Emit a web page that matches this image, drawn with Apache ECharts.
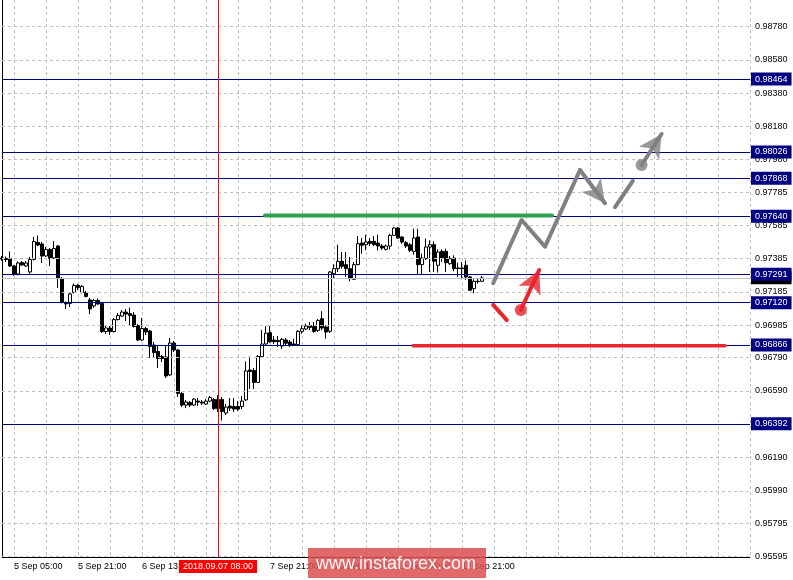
<!DOCTYPE html>
<html><head><meta charset="utf-8">
<script src="https://cdn.jsdelivr.net/npm/echarts@6/dist/echarts.min.js"></script>
<style>html,body{margin:0;padding:0;background:#fff}#c{width:793px;height:580px}</style>
</head><body><div id="c"></div>
<script>
// ---- data: hourly candles [open, close, low, high] ----
const candles = [
[0.97389,0.97383,0.97371,0.97401],[0.97386,0.97380,0.97365,0.97398],[0.97386,0.97341,0.97335,0.97428],
[0.97341,0.97290,0.97281,0.97347],[0.97293,0.97359,0.97284,0.97368],[0.97362,0.97347,0.97341,0.97371],
[0.97341,0.97359,0.97335,0.97371],[0.97305,0.97380,0.97293,0.97395],[0.97380,0.97488,0.97374,0.97515],
[0.97482,0.97467,0.97461,0.97524],[0.97473,0.97401,0.97359,0.97485],[0.97401,0.97440,0.97395,0.97455],
[0.97440,0.97386,0.97341,0.97449],[0.97389,0.97446,0.97383,0.97491],[0.97461,0.97266,0.97209,0.97467],
[0.97266,0.97122,0.97116,0.97275],[0.97122,0.97113,0.97083,0.97128],[0.97116,0.97173,0.97094,0.97179],
[0.97182,0.97224,0.97176,0.97236],[0.97224,0.97212,0.97197,0.97233],[0.97182,0.97218,0.97176,0.97227],
[0.97182,0.97158,0.97152,0.97191],[0.97137,0.97083,0.97052,0.97149],[0.97101,0.97134,0.97089,0.97143],
[0.97134,0.97113,0.97107,0.97146],[0.97116,0.96947,0.96938,0.97122],[0.96947,0.96968,0.96932,0.96980],
[0.96968,0.96947,0.96926,0.96980],[0.96947,0.97019,0.96941,0.97028],[0.97019,0.97043,0.97013,0.97058],
[0.97040,0.97064,0.97034,0.97076],[0.97064,0.97052,0.97010,0.97082],[0.97055,0.97043,0.96986,0.97091],
[0.97046,0.96977,0.96971,0.97064],[0.96983,0.96896,0.96890,0.96992],[0.96896,0.96965,0.96890,0.97028],
[0.96965,0.96944,0.96926,0.96974],[0.96950,0.96857,0.96788,0.96956],[0.96866,0.96821,0.96788,0.96884],
[0.96827,0.96785,0.96728,0.96860],[0.96797,0.96785,0.96764,0.96806],[0.96794,0.96680,0.96668,0.96860],
[0.96686,0.96878,0.96680,0.96908],[0.96878,0.96836,0.96824,0.96890],[0.96836,0.96575,0.96554,0.96842],
[0.96575,0.96505,0.96493,0.96584],[0.96505,0.96523,0.96487,0.96536],[0.96520,0.96505,0.96493,0.96529],
[0.96505,0.96541,0.96499,0.96547],[0.96529,0.96523,0.96499,0.96547],[0.96523,0.96517,0.96505,0.96536],
[0.96511,0.96529,0.96505,0.96541],[0.96529,0.96550,0.96523,0.96559],[0.96538,0.96484,0.96475,0.96547],
[0.96538,0.96484,0.96463,0.96565],[0.96538,0.96466,0.96412,0.96553],[0.96457,0.96493,0.96445,0.96511],
[0.96499,0.96487,0.96469,0.96547],[0.96496,0.96481,0.96463,0.96547],[0.96496,0.96481,0.96469,0.96529],
[0.96496,0.96529,0.96481,0.96559],[0.96536,0.96710,0.96529,0.96767],[0.96716,0.96707,0.96602,0.96797],
[0.96713,0.96641,0.96602,0.96728],[0.96641,0.96797,0.96638,0.96806],[0.96796,0.96872,0.96794,0.96956],
[0.96872,0.96937,0.96866,0.96980],[0.96940,0.96886,0.96878,0.96980],[0.96896,0.96886,0.96872,0.96920],
[0.96893,0.96887,0.96854,0.96920],[0.96860,0.96900,0.96842,0.96908],[0.96896,0.96877,0.96866,0.96908],
[0.96884,0.96864,0.96854,0.96896],[0.96872,0.96866,0.96860,0.96904],[0.96868,0.96948,0.96863,0.96956],
[0.96948,0.96964,0.96934,0.96984],[0.96962,0.96980,0.96956,0.96994],[0.96984,0.96972,0.96956,0.97004],
[0.96978,0.96948,0.96940,0.97004],[0.96954,0.97014,0.96944,0.97022],[0.97024,0.96968,0.96954,0.97069],
[0.96974,0.96944,0.96904,0.96984],[0.96948,0.97305,0.96938,0.97311],[0.97295,0.97325,0.97269,0.97351],
[0.97325,0.97369,0.97305,0.97469],[0.97369,0.97339,0.97325,0.97425],[0.97349,0.97325,0.97275,0.97425],
[0.97325,0.97265,0.97249,0.97395],[0.97261,0.97349,0.97257,0.97365],[0.97349,0.97475,0.97345,0.97521],
[0.97479,0.97465,0.97415,0.97509],[0.97469,0.97485,0.97435,0.97529],[0.97489,0.97477,0.97461,0.97509],
[0.97489,0.97469,0.97461,0.97521],[0.97479,0.97461,0.97435,0.97529],[0.97461,0.97449,0.97437,0.97473],
[0.97441,0.97461,0.97434,0.97470],[0.97461,0.97525,0.97441,0.97535],[0.97525,0.97569,0.97521,0.97575],
[0.97569,0.97509,0.97505,0.97575],[0.97515,0.97485,0.97475,0.97521],[0.97481,0.97461,0.97449,0.97491],
[0.97469,0.97435,0.97425,0.97479],[0.97429,0.97509,0.97409,0.97565],[0.97515,0.97349,0.97289,0.97565],
[0.97349,0.97389,0.97289,0.97415],[0.97385,0.97455,0.97377,0.97505],[0.97455,0.97469,0.97305,0.97495],
[0.97469,0.97369,0.97305,0.97489],[0.97345,0.97425,0.97301,0.97441],[0.97429,0.97389,0.97365,0.97441],
[0.97429,0.97361,0.97305,0.97445],[0.97355,0.97385,0.97347,0.97401],[0.97389,0.97325,0.97309,0.97405],
[0.97329,0.97325,0.97275,0.97361],[0.97329,0.97325,0.97261,0.97365],[0.97345,0.97275,0.97257,0.97375],
[0.97275,0.97195,0.97191,0.97281],[0.97205,0.97249,0.97177,0.97261],[0.97249,0.97247,0.97235,0.97265],
[0.97249,0.97269,0.97245,0.97281]
];
const slotCount = 188;                       // bar slots incl. empty future area
const timeLabels = ['5 Sep 05:00','5 Sep 21:00','6 Sep 13:00','7 Sep 05:00','7 Sep 21:00','10 Sep 13:00','11 Sep 05:00','11 Sep 21:00'];
const labelFirst = 3, labelStep = 16, gridStep = 8;
const priceTicks = [0.98780,0.98580,0.98380,0.98180,0.97980,0.97785,0.97585,0.97385,0.97185,0.96985,0.96790,0.96590,0.96390,0.96190,0.95990,0.95795,0.95595];
const priceMin = 0.955919, priceMax = 0.989395;
const levels = [0.98464,0.98026,0.97868,0.97640,0.97291,0.97120,0.96866,0.96392];
const bidPrice = 0.97270;
const markerIndex = 54, markerLabel = '2018.09.07 08:00';
// annotations in [bar position, price]
const greenLine = [[65.75,0.97644],[137.5,0.97644]];
const redLine = [[102.75,0.96861],[180.75,0.96861]];
const grayPath = [[122.8,0.97237],[129.9,0.97617],[135.75,0.97457],[144.5,0.97918]];
const grayArrow1 = [[144.5,0.97918],[150.75,0.97718]];
const graySeg = [[153.25,0.97694],[157.7,0.97852]];
const grayDot = [[159.9,0.97948]];
const grayArrow2 = [[159.9,0.97948],[164.9,0.98134]];
const redSeg = [[122.8,0.97107],[126.2,0.97016]];
const redDot = [[129.7,0.97076]];
const redArrow = [[129.7,0.97076],[134.3,0.97317]];

const FONT = 'Liberation Sans';
const cats = Array.from({length: slotCount}, (_, i) => String(i));
const chart = echarts.init(document.getElementById('c'));

function polyline(pts, color, w) {
  return {type: 'line', xAxisIndex: 1, data: pts, symbol: 'none', silent: true, z: 6,
    lineStyle: {color: color, width: w, cap: 'round', join: 'round'}};
}
function dot(pts, color) {
  return {type: 'scatter', xAxisIndex: 1, data: pts, symbol: 'circle', symbolSize: 12, silent: true, z: 7,
    itemStyle: {color: color}};
}
const arrows = [[grayArrow1, '#808080'], [grayArrow2, '#808080'], [redArrow, '#e8262e']];

const baseSeries = [
    { // horizontal grid
      type: 'line', xAxisIndex: 1, data: [], z: 1, silent: true,
      markLine: {silent: true, animation: false, precision: 5, symbol: 'none', label: {show: false},
        lineStyle: {color: '#c0c0c0', width: 1, type: [3, 3]},
        data: priceTicks.map(v => ({yAxis: v}))}
    },
    { // bid line
      type: 'line', xAxisIndex: 1, data: [], z: 2, silent: true,
      markLine: {silent: true, animation: false, precision: 5, symbol: 'none',
        lineStyle: {color: '#c0c0c0', width: 1, type: 'solid'},
        label: {show: true, position: 'end', distance: 1, formatter: (p) => p.value.toFixed(5),
          backgroundColor: '#000', color: '#fff', fontFamily: FONT, fontSize: 9, padding: [2, 4, 2, 4]},
        data: [{yAxis: bidPrice}]}
    },
    {
      type: 'candlestick', data: candles, barWidth: 3, z: 4, silent: true,
      itemStyle: {color: '#ffffff', color0: '#000000', borderColor: '#000000', borderColor0: '#000000', borderWidth: 1}
    },
    { // support / resistance levels
      type: 'line', xAxisIndex: 1, data: [], z: 5, silent: true,
      markLine: {silent: true, animation: false, precision: 5, symbol: 'none',
        lineStyle: {color: '#000080', width: 1, type: 'solid'},
        label: {show: true, position: 'end', distance: 1, formatter: (p) => p.value.toFixed(5),
          backgroundColor: '#000080', color: '#fff', fontFamily: FONT, fontSize: 9, padding: [2, 4, 2, 4]},
        data: levels.map(v => ({yAxis: v}))}
    },
    polyline(greenLine, '#2ea04e', 4),
    polyline(redLine, '#e8262e', 3.5),
    polyline(grayPath, '#808080', 4),
    polyline(graySeg, '#808080', 4),
    dot(grayDot, '#808080'),
    polyline(redSeg, '#e8262e', 4),
    dot(redDot, '#e8262e'),
    { // time marker
      type: 'line', data: [], z: 8, silent: true,
      markLine: {silent: true, animation: false, symbol: 'none',
        lineStyle: {color: '#ff0000', width: 1, type: 'solid'},
        label: {show: true, position: 'start', distance: 3, formatter: markerLabel,
          backgroundColor: '#ff0000', color: '#fff', fontFamily: FONT, fontSize: 9, padding: [2, 4, 2, 4]},
        data: [{xAxis: String(markerIndex)}]}
    }
];
arrows.forEach(([pts, color]) => baseSeries.push(polyline(pts, color, 4)));

const option = {
  animation: false,
  backgroundColor: '#ffffff',
  textStyle: {fontFamily: FONT},
  grid: {left: 2, right: 43, top: 0, bottom: 23},
  xAxis: [{
    type: 'category', data: cats, boundaryGap: false,
    axisLine: {show: true, onZero: false, lineStyle: {color: '#000', width: 1}},
    axisTick: {show: false},
    axisLabel: {
      interval: (i) => i >= labelFirst && (i - labelFirst) % labelStep === 0 && (i - labelFirst) / labelStep < timeLabels.length,
      formatter: (v, i) => timeLabels[(i - labelFirst) / labelStep] || '',
      align: 'left', margin: 5, color: '#000', fontFamily: FONT, fontSize: 9
    },
    splitLine: {show: true, interval: (i) => i >= labelFirst && (i - labelFirst) % gridStep === 0,
      lineStyle: {color: '#c0c0c0', width: 1, type: [3, 3]}}
  }, {
    type: 'value', min: 0, max: slotCount - 1, show: false
  }],
  yAxis: {
    type: 'value', position: 'right', min: priceMin, max: priceMax,
    axisLine: {show: true, lineStyle: {color: '#000', width: 1}},
    axisTick: {show: true, length: 3, customValues: priceTicks, lineStyle: {color: '#000'}},
    axisLabel: {customValues: priceTicks, formatter: (v) => v.toFixed(5), color: '#000', fontFamily: FONT, fontSize: 9, margin: 5},
    splitLine: {show: false}
  },
  series: baseSeries,
  graphic: [
    {type: 'rect', z: 1000, zlevel: 1, silent: true, shape: {x: 308, y: 548, width: 178, height: 30}, style: {fill: 'rgba(220,80,80,0.86)'}},
    {type: 'text', z: 1001, zlevel: 1, silent: true, x: 396, y: 564, style: {text: 'www.instaforex.com', fill: 'rgba(255,255,255,0.95)', font: '18px "Liberation Sans"', align: 'center', verticalAlign: 'middle'}}
  ]
};
chart.setOption(option);

// arrowheads: oriented along each arrow segment using the chart's own coordinate conversion
const heads = arrows.map(([pts, color]) => {
  const a = chart.convertToPixel({xAxisIndex: 1, yAxisIndex: 0}, pts[0]);
  const b = chart.convertToPixel({xAxisIndex: 1, yAxisIndex: 0}, pts[1]);
  const ang = Math.atan2(b[0] - a[0], -(b[1] - a[1])) * 180 / Math.PI;
  return {type: 'scatter', xAxisIndex: 1, silent: true, z: 7, symbol: 'arrow', symbolSize: [18, 23],
    symbolRotate: -ang, data: [pts[1]], itemStyle: {color: color}};
});
chart.setOption({series: baseSeries.concat(heads)});
</script>
</body></html>
